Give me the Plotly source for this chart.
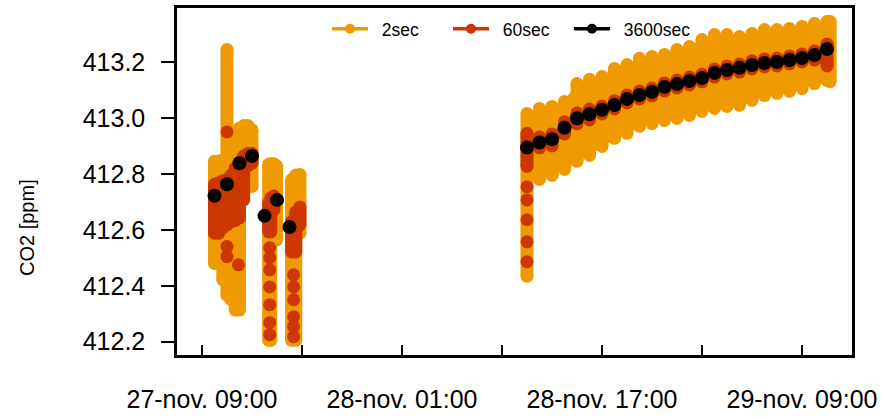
import plotly.graph_objects as go

ORANGE = "#EE9A00"
RED = "#CD3700"
BLACK = "#000000"

# ---------------- 2 sec readings: spread (min / max) per time slice ----------------
t_2s = [
    "2019-11-27 10:00", "2019-11-27 10:20", "2019-11-27 10:40", "2019-11-27 11:00", "2019-11-27 11:20",
    "2019-11-27 11:40", "2019-11-27 12:00", "2019-11-27 12:20", "2019-11-27 12:40", "2019-11-27 13:00",
    "2019-11-27 14:20", "2019-11-27 14:30", "2019-11-27 14:45", "2019-11-27 14:58",
    "2019-11-27 16:10", "2019-11-27 16:30", "2019-11-27 16:50",
    "2019-11-28 11:00", "2019-11-28 12:00", "2019-11-28 13:00", "2019-11-28 14:00", "2019-11-28 15:00",
    "2019-11-28 16:00", "2019-11-28 17:00", "2019-11-28 18:00", "2019-11-28 19:00", "2019-11-28 20:00",
    "2019-11-28 21:00", "2019-11-28 22:00", "2019-11-28 23:00", "2019-11-29 00:00", "2019-11-29 01:00",
    "2019-11-29 02:00", "2019-11-29 03:00", "2019-11-29 04:00", "2019-11-29 05:00", "2019-11-29 06:00",
    "2019-11-29 07:00", "2019-11-29 08:00", "2019-11-29 09:00", "2019-11-29 10:00", "2019-11-29 11:00",
    "2019-11-29 11:15",
]
hi_2s = [
    412.845, 412.846, 412.850, 413.245, 412.886, 412.929, 412.964, 412.973, 412.973, 412.957,
    412.834, 412.836, 412.836, 412.829,
    412.779, 412.796, 412.798,
    413.016, 413.034, 413.041, 413.059, 413.123, 413.138, 413.148, 413.177, 413.191, 413.213,
    413.220, 413.227, 413.245, 413.255, 413.280, 413.298, 413.298, 413.291, 413.302, 413.316,
    413.316, 413.320, 413.327, 413.338, 413.345,
    413.345,
]
lo_2s = [
    412.480, 412.480, 412.421, 412.366, 412.350, 412.313, 412.313, 412.755, 412.755, 412.755,
    412.205, 412.205, 412.564, 412.564,
    412.205, 412.205, 412.588,
    412.434, 412.780, 412.795, 412.816, 412.845, 412.866, 412.898, 412.927, 412.945, 412.970,
    412.980, 412.991, 412.998, 413.009, 413.023, 413.034, 413.041, 413.045, 413.063, 413.080,
    413.088, 413.095, 413.105, 413.123, 413.134,
    413.130,
]
band_start_2s = 18   # first slice of the continuous 28/29-nov band (after the initial drop)

# ---------------- 60 sec readings: spread per time slice + isolated readings ----------------
t_60s = [
    "2019-11-27 10:00", "2019-11-27 10:20", "2019-11-27 10:40", "2019-11-27 11:00", "2019-11-27 11:20",
    "2019-11-27 11:40", "2019-11-27 12:00", "2019-11-27 12:20", "2019-11-27 12:40", "2019-11-27 13:00",
    "2019-11-27 14:20", "2019-11-27 14:30", "2019-11-27 14:45",
    "2019-11-27 16:10", "2019-11-27 16:30", "2019-11-27 16:50",
    "2019-11-28 11:00", "2019-11-28 12:00", "2019-11-28 13:00", "2019-11-28 14:00", "2019-11-28 15:00",
    "2019-11-28 16:00", "2019-11-28 17:00", "2019-11-28 18:00", "2019-11-28 19:00", "2019-11-28 20:00",
    "2019-11-28 21:00", "2019-11-28 22:00", "2019-11-28 23:00", "2019-11-29 00:00", "2019-11-29 01:00",
    "2019-11-29 02:00", "2019-11-29 03:00", "2019-11-29 04:00", "2019-11-29 05:00", "2019-11-29 06:00",
    "2019-11-29 07:00", "2019-11-29 08:00", "2019-11-29 09:00", "2019-11-29 10:00", "2019-11-29 11:00",
]
hi_60s = [
    412.763, 412.768, 412.775, 412.780, 412.796, 412.821, 412.843, 412.864, 412.873, 412.873,
    412.696, 412.714, 412.721,
    412.629, 412.664, 412.682,
    412.945, 412.932, 412.943, 412.986, 413.018, 413.032, 413.043, 413.061, 413.082, 413.096,
    413.107, 413.125, 413.136, 413.146, 413.157, 413.175, 413.186, 413.193, 413.204, 413.211,
    413.214, 413.221, 413.229, 413.239, 413.264,
]
lo_60s = [
    412.588, 412.588, 412.607, 412.618, 412.629, 412.634, 412.643, 412.707, 412.829, 412.838,
    412.593, 412.593, 412.671,
    412.521, 412.521, 412.618,
    412.827, 412.893, 412.900, 412.943, 412.979, 412.993, 413.014, 413.032, 413.054, 413.068,
    413.079, 413.096, 413.107, 413.118, 413.129, 413.146, 413.157, 413.164, 413.175, 413.182,
    413.186, 413.193, 413.200, 413.207, 413.186,
]
band_start_60s = 17
t_60s_pts = [
    "2019-11-27 11:00", "2019-11-27 11:00", "2019-11-27 11:00", "2019-11-27 11:55",
    "2019-11-27 14:25", "2019-11-27 14:25", "2019-11-27 14:25", "2019-11-27 14:25",
    "2019-11-27 14:25", "2019-11-27 14:25", "2019-11-27 14:25",
    "2019-11-27 16:20", "2019-11-27 16:20", "2019-11-27 16:20", "2019-11-27 16:20",
    "2019-11-27 16:20", "2019-11-27 16:20",
    "2019-11-28 11:00", "2019-11-28 11:00", "2019-11-28 11:00", "2019-11-28 11:00", "2019-11-28 11:00",
]
v_60s_pts = [
    412.950, 412.540, 412.504, 412.475,
    412.536, 412.500, 412.457, 412.396, 412.332, 412.268, 412.225,
    412.439, 412.396, 412.350, 412.289, 412.254, 412.218,
    412.754, 412.707, 412.636, 412.557, 412.486,
]

# ---------------- 3600 sec (hourly) means ----------------
t_3600 = [
    "2019-11-27 10:00", "2019-11-27 11:00", "2019-11-27 12:00", "2019-11-27 13:00",
    "2019-11-27 14:00", "2019-11-27 15:00", "2019-11-27 16:00",
    "2019-11-28 11:00", "2019-11-28 12:00", "2019-11-28 13:00", "2019-11-28 14:00", "2019-11-28 15:00",
    "2019-11-28 16:00", "2019-11-28 17:00", "2019-11-28 18:00", "2019-11-28 19:00", "2019-11-28 20:00",
    "2019-11-28 21:00", "2019-11-28 22:00", "2019-11-28 23:00", "2019-11-29 00:00", "2019-11-29 01:00",
    "2019-11-29 02:00", "2019-11-29 03:00", "2019-11-29 04:00", "2019-11-29 05:00", "2019-11-29 06:00",
    "2019-11-29 07:00", "2019-11-29 08:00", "2019-11-29 09:00", "2019-11-29 10:00", "2019-11-29 11:00",
]
v_3600 = [
    412.722, 412.763, 412.838, 412.864, 412.650, 412.707, 412.610,
    412.894, 412.912, 412.924, 412.965, 412.999, 413.013, 413.029, 413.046, 413.068, 413.082,
    413.093, 413.111, 413.121, 413.132, 413.143, 413.161, 413.171, 413.179, 413.189, 413.196,
    413.200, 413.207, 413.214, 413.225, 413.246,
]

# ---------------- axis ticks / legend ----------------
x_tickvals = ["2019-11-27 09:00", "2019-11-27 17:00", "2019-11-28 01:00", "2019-11-28 09:00",
              "2019-11-28 17:00", "2019-11-29 01:00", "2019-11-29 09:00"]
x_ticktext = ["27-nov. 09:00", "", "28-nov. 01:00", "", "28-nov. 17:00", "", "29-nov. 09:00"]
y_tickvals = [412.2, 412.4, 412.6, 412.8, 413.0, 413.2]
y_ticktext = ["412.2", "412.4", "412.6", "412.8", "413.0", "413.2"]
series_names = ["2sec", "60sec", "3600sec"]

DOT = 13


def spread(ts, lo, hi):
    xs, ys = [], []
    for t, a, b in zip(ts, lo, hi):
        xs += [t, t, None]
        ys += [a, b, None]
    return xs, ys


def band(ts, lo, hi, start):
    xs = list(ts[start:]) + list(reversed(ts[start:]))
    ys = list(hi[start:]) + list(reversed(lo[start:]))
    return xs, ys


fig = go.Figure()

# 2 sec
bx, by = band(t_2s, lo_2s, hi_2s, band_start_2s)
fig.add_trace(go.Scatter(x=bx, y=by, mode="lines", fill="toself", fillcolor=ORANGE,
                         line=dict(color=ORANGE, width=1), showlegend=False, hoverinfo="skip"))
x2, y2 = spread(t_2s, lo_2s, hi_2s)
fig.add_trace(go.Scatter(x=x2, y=y2, mode="lines+markers", showlegend=False, hoverinfo="skip",
                         line=dict(color=ORANGE, width=DOT), marker=dict(color=ORANGE, size=DOT)))

# 60 sec
bx, by = band(t_60s, lo_60s, hi_60s, band_start_60s)
fig.add_trace(go.Scatter(x=bx, y=by, mode="lines", fill="toself", fillcolor=RED,
                         line=dict(color=RED, width=1), showlegend=False, hoverinfo="skip"))
x6, y6 = spread(t_60s, lo_60s, hi_60s)
fig.add_trace(go.Scatter(x=x6, y=y6, mode="lines+markers", showlegend=False, hoverinfo="skip",
                         line=dict(color=RED, width=DOT), marker=dict(color=RED, size=DOT)))
fig.add_trace(go.Scatter(x=t_60s_pts, y=v_60s_pts, mode="markers", showlegend=False,
                         marker=dict(color=RED, size=DOT)))

# 3600 sec
fig.add_trace(go.Scatter(x=t_3600, y=v_3600, mode="markers", showlegend=False,
                         marker=dict(color=BLACK, size=DOT + 1)))

# legend entries
for name, col in zip(series_names, [ORANGE, RED, BLACK]):
    fig.add_trace(go.Scatter(x=[None], y=[None], mode="lines+markers", name="\u2002" + name,
                             line=dict(color=col, width=3.5), marker=dict(color=col, size=10)))

fig.update_layout(
    width=884, height=419,
    margin=dict(l=177, r=32, t=8, b=64, autoexpand=False),
    plot_bgcolor="white", paper_bgcolor="white",
    font=dict(family="Liberation Sans, Arial, sans-serif", color="black"),
    showlegend=True,
    legend=dict(orientation="h", x=0.2222, xanchor="left", y=0.94, yanchor="middle",
                bgcolor="rgba(0,0,0,0)", font=dict(size=17.5), itemwidth=36,
                entrywidth=70, entrywidthmode="pixels"),
    annotations=[dict(text="CO2 [ppm]", xref="paper", yref="paper", x=-0.2222, y=0.366,
                      textangle=-90, showarrow=False, font=dict(size=20),
                      xanchor="center", yanchor="middle")],
)
fig.update_xaxes(type="date", range=["2019-11-27 07:00", "2019-11-29 13:00"],
                 tickmode="array", tickvals=x_tickvals, ticktext=x_ticktext,
                 ticks="inside", ticklen=10, tickwidth=1.5, tickcolor="black",
                 showline=True, linewidth=2.5, linecolor="black", mirror=True, automargin=False,
                 showgrid=False, zeroline=False, tickfont=dict(size=25), ticklabelstandoff=20)
fig.update_yaxes(range=[412.1525, 413.393],
                 tickmode="array", tickvals=y_tickvals, ticktext=y_ticktext,
                 ticks="outside", ticklen=13, tickwidth=1.5, tickcolor="black",
                 showline=True, linewidth=2.5, linecolor="black", mirror=True, automargin=False,
                 showgrid=False, zeroline=False, tickfont=dict(size=25), ticklabelstandoff=11)

fig.write_html("out.html", config={"displayModeBar": False},
               post_script="document.body.style.margin='0';document.body.style.overflow='hidden';")
